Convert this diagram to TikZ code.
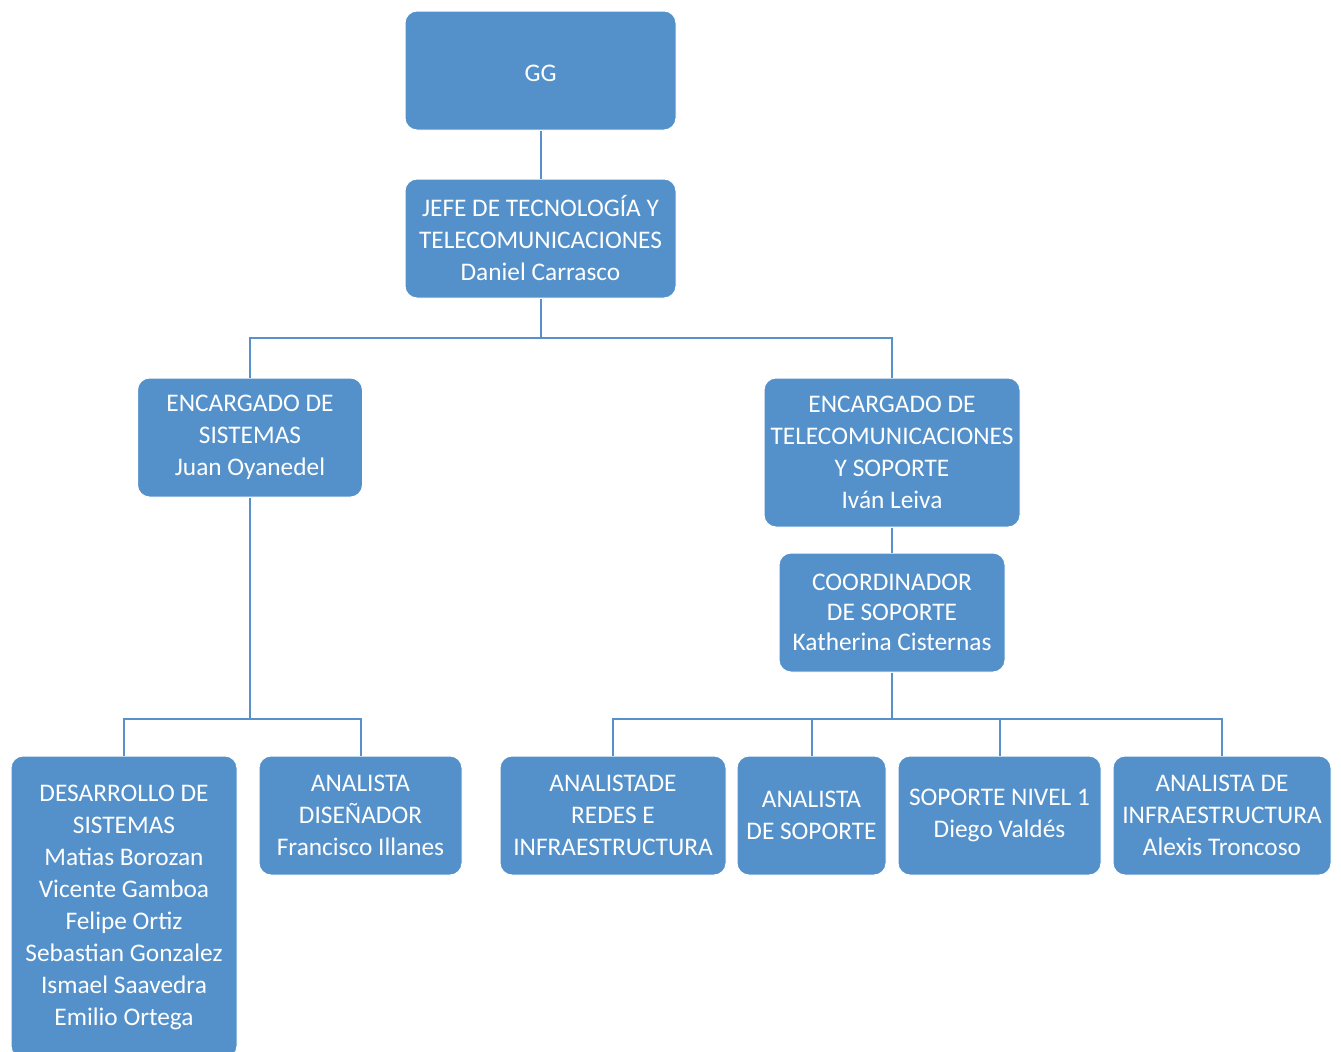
\documentclass[tikz,border=0pt]{standalone}
\usepackage{fontspec}
\setmainfont{Carlito}
\usetikzlibrary{positioning}

\definecolor{boxblue}{RGB}{84,145,203}
\definecolor{lineblue}{RGB}{88,144,202}

\begin{document}
\begin{tikzpicture}[x=0.75pt,y=0.75pt,yscale=-1,xscale=1,
  box/.style={fill=boxblue, draw=white, line width=0.75, rounded corners=9pt,
    text=white, align=center, inner sep=0pt, font=\fontsize{19}{24}\selectfont,
    execute at begin node={\rule{0pt}{17pt}}},
  link/.style={draw=lineblue, line width=1.5}]
\path[use as bounding box] (0,0) rectangle (1341,1051);

%Boxes: top
\node[box, minimum width=203.25pt, minimum height=89.25pt] (gg) at (540.5,70.5) {GG};
\node[box, minimum width=203.25pt, minimum height=89.25pt] (jefe) at (540.5,238.5)
  {JEFE DE TECNOLOGÍA Y\\TELECOMUNICACIONES\\Daniel Carrasco};

%Boxes: second level
\node[box, minimum width=168.75pt, minimum height=89.25pt] (sis) at (250,437.5)
  {ENCARGADO DE\\SISTEMAS\\Juan Oyanedel};
\node[box, minimum width=192pt, minimum height=111.75pt] (tel) at (892,452.5)
  {ENCARGADO DE\\TELECOMUNICACIONES\\Y SOPORTE\\Iván Leiva};
\node[box, minimum width=169.5pt, minimum height=89.25pt,
  font=\fontsize{19}{22.5}\selectfont] (coord) at (892,612.5)
  {COORDINADOR\\DE SOPORTE\\Katherina Cisternas};

%Boxes: bottom row
\node[box, minimum width=169.5pt, minimum height=226.5pt] (desa) at (124,907)
  {DESARROLLO DE\\SISTEMAS\\Matias Borozan\\Vicente Gamboa\\Felipe Ortiz\\Sebastian Gonzalez\\Ismael Saavedra\\Emilio Ortega};
\node[box, minimum width=152.25pt, minimum height=89.25pt] (dis) at (360.5,815.5)
  {ANALISTA\\DISEÑADOR\\Francisco Illanes};
\node[box, minimum width=169.5pt, minimum height=89.25pt] (redes) at (613,815.5)
  {ANALISTADE\\REDES E\\INFRAESTRUCTURA};
\node[box, minimum width=111.75pt, minimum height=89.25pt] (sop) at (811.5,815.5)
  {ANALISTA\\DE SOPORTE};
\node[box, minimum width=152.25pt, minimum height=89.25pt] (niv) at (999.5,815.5)
  {SOPORTE NIVEL 1\\Diego Valdés};
\node[box, minimum width=163.5pt, minimum height=89.25pt] (infra) at (1222,815.5)
  {ANALISTA DE\\INFRAESTRUCTURA\\Alexis Troncoso};

%Connectors
\draw[link] (gg) -- (jefe);
\draw[link] (jefe.south) -- ++(0,39) coordinate (bus1);
\draw[link] (sis.north) |- (bus1) -| (tel.north);
\draw[link] (tel) -- (coord);

\draw[link] (sis.south) -- ++(0,221) coordinate (bus2);
\draw[link] (desa.north) |- (bus2) -| (dis.north);

\draw[link] (coord.south) -- ++(0,46) coordinate (bus3);
\draw[link] (redes.north) |- (bus3) -| (infra.north);
\draw[link] (sop.north) -- (sop.north |- bus3);
\draw[link] (niv.north) -- (niv.north |- bus3);

\end{tikzpicture}
\end{document}
